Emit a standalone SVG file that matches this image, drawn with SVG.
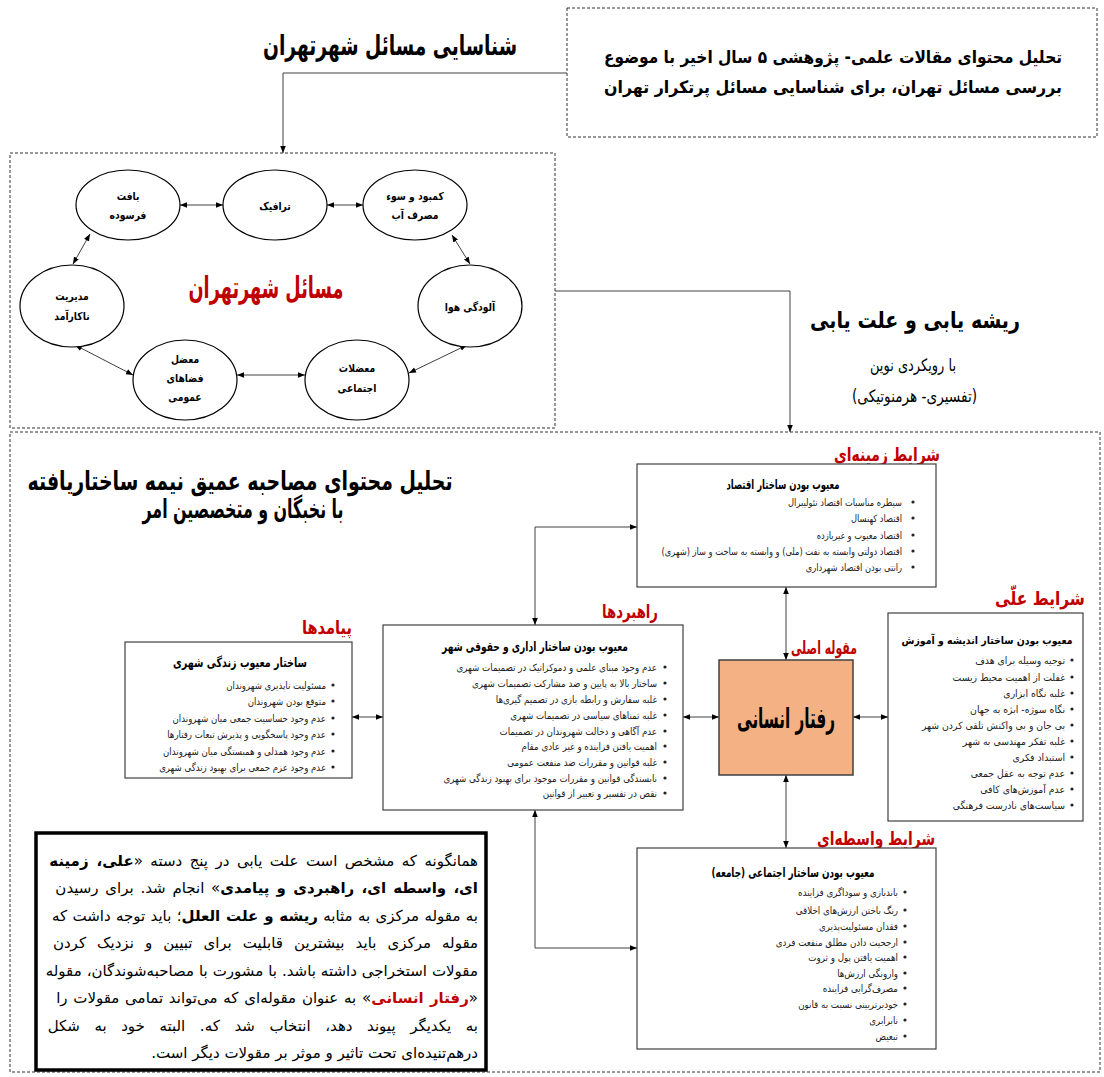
<svg xmlns="http://www.w3.org/2000/svg" width="1104" height="1077" viewBox="0 0 1104 1077">
<style>
text{font-family:"DejaVu Sans",sans-serif;dominant-baseline:central}
.r{direction:rtl;text-anchor:start}
.m{text-anchor:middle}
.ds{fill:none;stroke:#333;stroke-width:1;stroke-dasharray:3 2}
.bx{fill:#fff;stroke:#404040;stroke-width:1.2}
.el{fill:#fff;stroke:#000;stroke-width:1.2}
.cn{fill:none;stroke:#404040;stroke-width:1;marker-end:url(#a)}
.cn2{fill:none;stroke:#404040;stroke-width:1;marker-start:url(#a);marker-end:url(#a)}
.big{font-size:28px;font-weight:bold;fill:#000}
.red{fill:#C00000;font-weight:bold}
.lbl{font-size:19px}
.et{font-size:11px;font-weight:bold;text-anchor:middle}
.bt{font-size:13px;font-weight:bold;fill:#000}
.li{font-size:10px;fill:#222;direction:rtl;text-anchor:start}
.p{font-size:15px;fill:#000}
.b{font-weight:bold}
.dot{fill:#222}
</style>
<defs>
<marker id="a" viewBox="0 0 10 10" refX="10" refY="5" markerWidth="7" markerHeight="7" orient="auto-start-reverse" markerUnits="userSpaceOnUse"><path d="M0,1 L10,5 L0,9 z" fill="#000"/></marker>
</defs>

<g id="frames">
<rect class="ds" x="567" y="8" width="530" height="129"/>
<rect class="ds" x="10" y="153" width="545" height="275"/>
<rect class="ds" x="10" y="432" width="1090" height="640"/>
</g>

<g id="titles">
<text class="big m" x="390" y="45" textLength="254" lengthAdjust="spacingAndGlyphs">شناسایی مسائل شهرتهران</text>
<text class="m" x="833" y="57" style="font-size:17px;font-weight:bold" textLength="458" lengthAdjust="spacingAndGlyphs">تحلیل محتوای مقالات علمی- پژوهشی ۵ سال اخیر با موضوع</text>
<text class="m" x="833" y="87" style="font-size:17px;font-weight:bold" textLength="458" lengthAdjust="spacingAndGlyphs">بررسی مسائل تهران، برای شناسایی مسائل پرتکرار تهران</text>
<text class="big m" x="915" y="320" style="font-size:23px" textLength="210" lengthAdjust="spacingAndGlyphs">ریشه یابی و علت یابی</text>
<text class="m" x="913" y="365" style="font-size:17px" textLength="86" lengthAdjust="spacingAndGlyphs">با رویکردی نوین</text>
<text class="r" x="977" y="396" style="font-size:17px" textLength="125" lengthAdjust="spacingAndGlyphs">(تفسیری-  هرمنوتیکی)</text>
<text class="big m" x="240" y="481" style="font-size:26px" textLength="425" lengthAdjust="spacingAndGlyphs">تحلیل محتوای مصاحبه عمیق نیمه ساختاریافته</text>
<text class="big m" x="243" y="509" style="font-size:26px" textLength="201" lengthAdjust="spacingAndGlyphs">با نخبگان و متخصصین امر</text>
<text class="red m" x="266" y="287" style="font-size:30px" textLength="155" lengthAdjust="spacingAndGlyphs">مسائل شهرتهران</text>
</g>

<g id="connectors">
<polyline class="cn" points="567,73 283,73 283,153"/>
<polyline class="cn" points="555,291 790,291 790,432"/>
<line class="cn2" x1="180" y1="205" x2="223" y2="205"/>
<line class="cn2" x1="327" y1="205" x2="363" y2="205"/>
<line class="cn2" x1="452" y1="235" x2="470" y2="264"/>
<line class="cn2" x1="467" y1="345" x2="409" y2="373"/>
<line class="cn2" x1="237" y1="375" x2="305" y2="375"/>
<line class="cn2" x1="75" y1="345" x2="133" y2="375"/>
<line class="cn2" x1="73" y1="264" x2="90" y2="234"/>
<polyline class="cn2" points="637,527 535,527 535,625"/>
<polyline class="cn2" points="535,810 535,948 637,948"/>
<line class="cn2" x1="786" y1="587" x2="786" y2="660"/>
<line class="cn2" x1="786" y1="775" x2="786" y2="848"/>
<line class="cn2" x1="683" y1="717" x2="719" y2="717"/>
<line class="cn2" x1="853" y1="717" x2="888" y2="717"/>
<line class="cn2" x1="352" y1="717" x2="383" y2="717"/>
</g>

<g id="e-bafat"><ellipse class="el" cx="128" cy="205" rx="52" ry="35"/><g transform="translate(128,0) scale(0.84,1)"><text class="et" x="0" y="196">بافت</text><text class="et" x="0" y="215">فرسوده</text></g></g>
<g id="e-terafik"><ellipse class="el" cx="275" cy="205" rx="52" ry="35"/><g transform="translate(275,0) scale(0.84,1)"><text class="et" x="0" y="206">ترافیک</text></g></g>
<g id="e-ab"><ellipse class="el" cx="415" cy="205" rx="52" ry="35"/><g transform="translate(415,0) scale(0.84,1)"><text class="et" x="0" y="196">کمبود و سوء</text><text class="et" x="0" y="215">مصرف آب</text></g></g>
<g id="e-hava"><ellipse class="el" cx="470" cy="306" rx="52" ry="41"/><g transform="translate(470,0) scale(0.84,1)"><text class="et" x="0" y="307">آلودگی هوا</text></g></g>
<g id="e-ejtemai"><ellipse class="el" cx="357" cy="380" rx="52" ry="40"/><g transform="translate(357,0) scale(0.84,1)"><text class="et" x="0" y="368">معضلات</text><text class="et" x="0" y="388">اجتماعی</text></g></g>
<g id="e-fazaha"><ellipse class="el" cx="185" cy="380" rx="52" ry="40"/><g transform="translate(185,0) scale(0.84,1)"><text class="et" x="0" y="359">معضل</text><text class="et" x="0" y="378">فضاهای</text><text class="et" x="0" y="397">عمومی</text></g></g>
<g id="e-modiriat"><ellipse class="el" cx="72" cy="306" rx="52" ry="41"/><g transform="translate(72,0) scale(0.84,1)"><text class="et" x="0" y="296">مدیریت</text><text class="et" x="0" y="316">ناکارآمد</text></g></g>

<g id="n-zamine">
<text class="red r lbl" x="940" y="454" textLength="106" lengthAdjust="spacingAndGlyphs">شرایط زمینه‌ای</text>
<rect class="bx" x="637" y="464" width="299" height="123"/>
<text class="bt m" x="783" y="484" textLength="113" lengthAdjust="spacingAndGlyphs">معیوب بودن ساختار اقتصاد</text>
<g class="dot"><circle cx="913" cy="502" r="1.6"/><circle cx="913" cy="518" r="1.6"/><circle cx="913" cy="535" r="1.6"/><circle cx="913" cy="551" r="1.6"/><circle cx="913" cy="567" r="1.6"/></g>
<g transform="translate(902,0) scale(0.83,1)">
<text class="li" x="0" y="502">سیطره مناسبات اقتصاد نئولیبرال</text>
<text class="li" x="0" y="518">اقتصاد کهنسال</text>
<text class="li" x="0" y="535">اقتصاد معیوب و غیربازده</text>
<text class="li" x="0" y="551">اقتصاد دولتی وابسته به نفت (ملی) و وابسته به ساخت و ساز (شهری)</text>
<text class="li" x="0" y="567">رانتی بودن اقتصاد شهرداری</text>
</g>
</g>

<g id="n-rahbord">
<text class="red r lbl" x="658" y="611" textLength="56" lengthAdjust="spacingAndGlyphs">راهبردها</text>
<rect class="bx" x="383" y="625" width="300" height="185"/>
<text class="bt m" x="535" y="646" textLength="186" lengthAdjust="spacingAndGlyphs">معیوب بودن ساختار اداری و حقوقی شهر</text>
<g class="dot"><circle cx="665" cy="667" r="1.6"/><circle cx="665" cy="683" r="1.6"/><circle cx="665" cy="699" r="1.6"/><circle cx="665" cy="715" r="1.6"/><circle cx="665" cy="731" r="1.6"/><circle cx="665" cy="746" r="1.6"/><circle cx="665" cy="762" r="1.6"/><circle cx="665" cy="778" r="1.6"/><circle cx="665" cy="793" r="1.6"/></g>
<g transform="translate(657,0) scale(0.87,1)">
<text class="li" x="0" y="667">عدم وجود مبنای علمی و دموکراتیک در تصمیمات شهری</text>
<text class="li" x="0" y="683">ساختار بالا به پایین و ضد مشارکت تصمیمات شهری</text>
<text class="li" x="0" y="699">غلبه سفارش و رابطه بازی در تصمیم گیری‌ها</text>
<text class="li" x="0" y="715">غلبه تمناهای سیاسی در تصمیمات شهری</text>
<text class="li" x="0" y="731">عدم آگاهی و دخالت شهروندان در تصمیمات</text>
<text class="li" x="0" y="746">اهمیت یافتن فزاینده و غیر عادی مقام</text>
<text class="li" x="0" y="762">غلبه قوانین و مقررات ضد منفعت عمومی</text>
<text class="li" x="0" y="778">نابسندگی قوانین و مقررات موجود برای بهبود زندگی شهری</text>
<text class="li" x="0" y="793">نقص در تفسیر و تعبیر از قوانین</text>
</g>
</g>

<g id="n-payamad">
<text class="red r lbl" x="352" y="627" textLength="50" lengthAdjust="spacingAndGlyphs">پیامدها</text>
<rect class="bx" x="125" y="642" width="227" height="136"/>
<text class="bt m" x="240" y="662" textLength="134" lengthAdjust="spacingAndGlyphs">ساختار معیوب زندگی شهری</text>
<g class="dot"><circle cx="333" cy="685" r="1.6"/><circle cx="333" cy="701" r="1.6"/><circle cx="333" cy="718" r="1.6"/><circle cx="333" cy="734" r="1.6"/><circle cx="333" cy="751" r="1.6"/><circle cx="333" cy="767" r="1.6"/></g>
<g transform="translate(326,0) scale(0.86,1)">
<text class="li" x="0" y="685">مسئولیت ناپذیری شهروندان</text>
<text class="li" x="0" y="701">متوقع بودن شهروندان</text>
<text class="li" x="0" y="718">عدم وجود حساسیت جمعی میان شهروندان</text>
<text class="li" x="0" y="734">عدم وجود پاسخگویی و پذیرش تبعات رفتارها</text>
<text class="li" x="0" y="751">عدم وجود همدلی و همبستگی میان شهروندان</text>
<text class="li" x="0" y="767">عدم وجود عزم جمعی برای بهبود زندگی شهری</text>
</g>
</g>

<g id="n-ellat">
<text class="red r lbl" x="1085" y="598" textLength="90" lengthAdjust="spacingAndGlyphs">شرایط علّی</text>
<rect class="bx" x="888" y="613" width="195" height="208"/>
<text class="bt m" x="987" y="640" style="font-size:10.8px" textLength="171" lengthAdjust="spacingAndGlyphs">معیوب بودن ساختار اندیشه و آموزش</text>
<g class="dot"><circle cx="1072" cy="660" r="1.6"/><circle cx="1072" cy="677" r="1.6"/><circle cx="1072" cy="693" r="1.6"/><circle cx="1072" cy="709" r="1.6"/><circle cx="1072" cy="725" r="1.6"/><circle cx="1072" cy="741" r="1.6"/><circle cx="1072" cy="757" r="1.6"/><circle cx="1072" cy="773" r="1.6"/><circle cx="1072" cy="789" r="1.6"/><circle cx="1072" cy="805" r="1.6"/></g>
<g transform="translate(1065,0) scale(0.93,1)">
<text class="li" x="0" y="660">توجیه وسیله برای هدف</text>
<text class="li" x="0" y="677">غفلت از اهمیت محیط زیست</text>
<text class="li" x="0" y="693">غلبه نگاه ابزاری</text>
<text class="li" x="0" y="709">نگاه سوژه- ابژه به جهان</text>
<text class="li" x="0" y="725">بی جان و بی واکنش تلقی کردن شهر</text>
<text class="li" x="0" y="741">غلبه تفکر مهندسی به شهر</text>
<text class="li" x="0" y="757">استبداد فکری</text>
<text class="li" x="0" y="773">عدم توجه به عقل جمعی</text>
<text class="li" x="0" y="789">عدم آموزش‌های کافی</text>
<text class="li" x="0" y="805">سیاست‌های نادرست فرهنگی</text>
</g>
</g>

<g id="n-vasete">
<text class="red r lbl" x="935" y="838" textLength="118" lengthAdjust="spacingAndGlyphs">شرایط واسطه‌ای</text>
<rect class="bx" x="637" y="848" width="299" height="201"/>
<text class="bt m" x="793" y="872" textLength="163" lengthAdjust="spacingAndGlyphs">معیوب بودن ساختار اجتماعی (جامعه)</text>
<g class="dot"><circle cx="905" cy="892" r="1.6"/><circle cx="905" cy="910" r="1.6"/><circle cx="905" cy="926" r="1.6"/><circle cx="905" cy="942" r="1.6"/><circle cx="905" cy="957" r="1.6"/><circle cx="905" cy="973" r="1.6"/><circle cx="905" cy="988" r="1.6"/><circle cx="905" cy="1004" r="1.6"/><circle cx="905" cy="1020" r="1.6"/><circle cx="905" cy="1036" r="1.6"/></g>
<g transform="translate(898,0) scale(0.87,1)">
<text class="li" x="0" y="892">باندبازی و سوداگری فزاینده</text>
<text class="li" x="0" y="910">رنگ باختن ارزش‌های اخلاقی</text>
<text class="li" x="0" y="926">فقدان مسئولیت‌پذیری</text>
<text class="li" x="0" y="942">ارجحیت دادن مطلق منفعت فردی</text>
<text class="li" x="0" y="957">اهمیت یافتن پول و ثروت</text>
<text class="li" x="0" y="973">وارونگی ارزش‌ها</text>
<text class="li" x="0" y="988">مصرف‌گرایی فزاینده</text>
<text class="li" x="0" y="1004">خودبرتربینی نسبت به قانون</text>
<text class="li" x="0" y="1020">نابرابری</text>
<text class="li" x="0" y="1036">تبعیض</text>
</g>
</g>

<g id="n-markazi">
<text class="red r" x="857" y="647" style="font-size:18px" textLength="66" lengthAdjust="spacingAndGlyphs">مقوله اصلی</text>
<rect x="719" y="660" width="134" height="115" fill="#F4B183" stroke="#404040" stroke-width="1.5"/>
<text class="m" x="786" y="718" style="font-size:28px;font-weight:bold" textLength="98" lengthAdjust="spacingAndGlyphs">رفتار انسانی</text>
</g>

<g id="n-matn">
<rect x="36" y="833" width="450" height="237" fill="#fff" stroke="#000" stroke-width="3.5"/>
<text class="p r" x="478" y="861" word-spacing="2.7">همانگونه که مشخص است علت یابی در پنج دسته «<tspan class="b">علی، زمینه</tspan></text>
<text class="p r" x="478" y="888" word-spacing="2"><tspan class="b">ای، واسطه ای، راهبردی و پیامدی</tspan>» انجام شد. برای رسیدن</text>
<text class="p r" x="478" y="916" word-spacing="0.6">به مقوله مرکزی به مثابه <tspan class="b">ریشه و علت العلل</tspan>؛ باید توجه داشت که</text>
<text class="p r" x="478" y="943" word-spacing="6.3">مقوله مرکزی باید بیشترین قابلیت برای تبیین و نزدیک کردن</text>
<text class="p r" x="478" y="971" word-spacing="0.2">مقولات استخراجی داشته باشد. با مشورت با مصاحبه‌شوندگان، مقوله</text>
<text class="p r" x="478" y="998" word-spacing="1">«<tspan class="b" fill="#C00000">رفتار انسانی</tspan>» به عنوان مقوله‌ای که می‌تواند تمامی مقولات را</text>
<text class="p r" x="478" y="1026" word-spacing="9.8">به یکدیگر پیوند دهد، انتخاب شد که. البته خود به شکل</text>
<text class="p r" x="478" y="1053">درهم‌تنیده‌ای تحت تاثیر و موثر بر مقولات دیگر است.</text>
</g>
</svg>
